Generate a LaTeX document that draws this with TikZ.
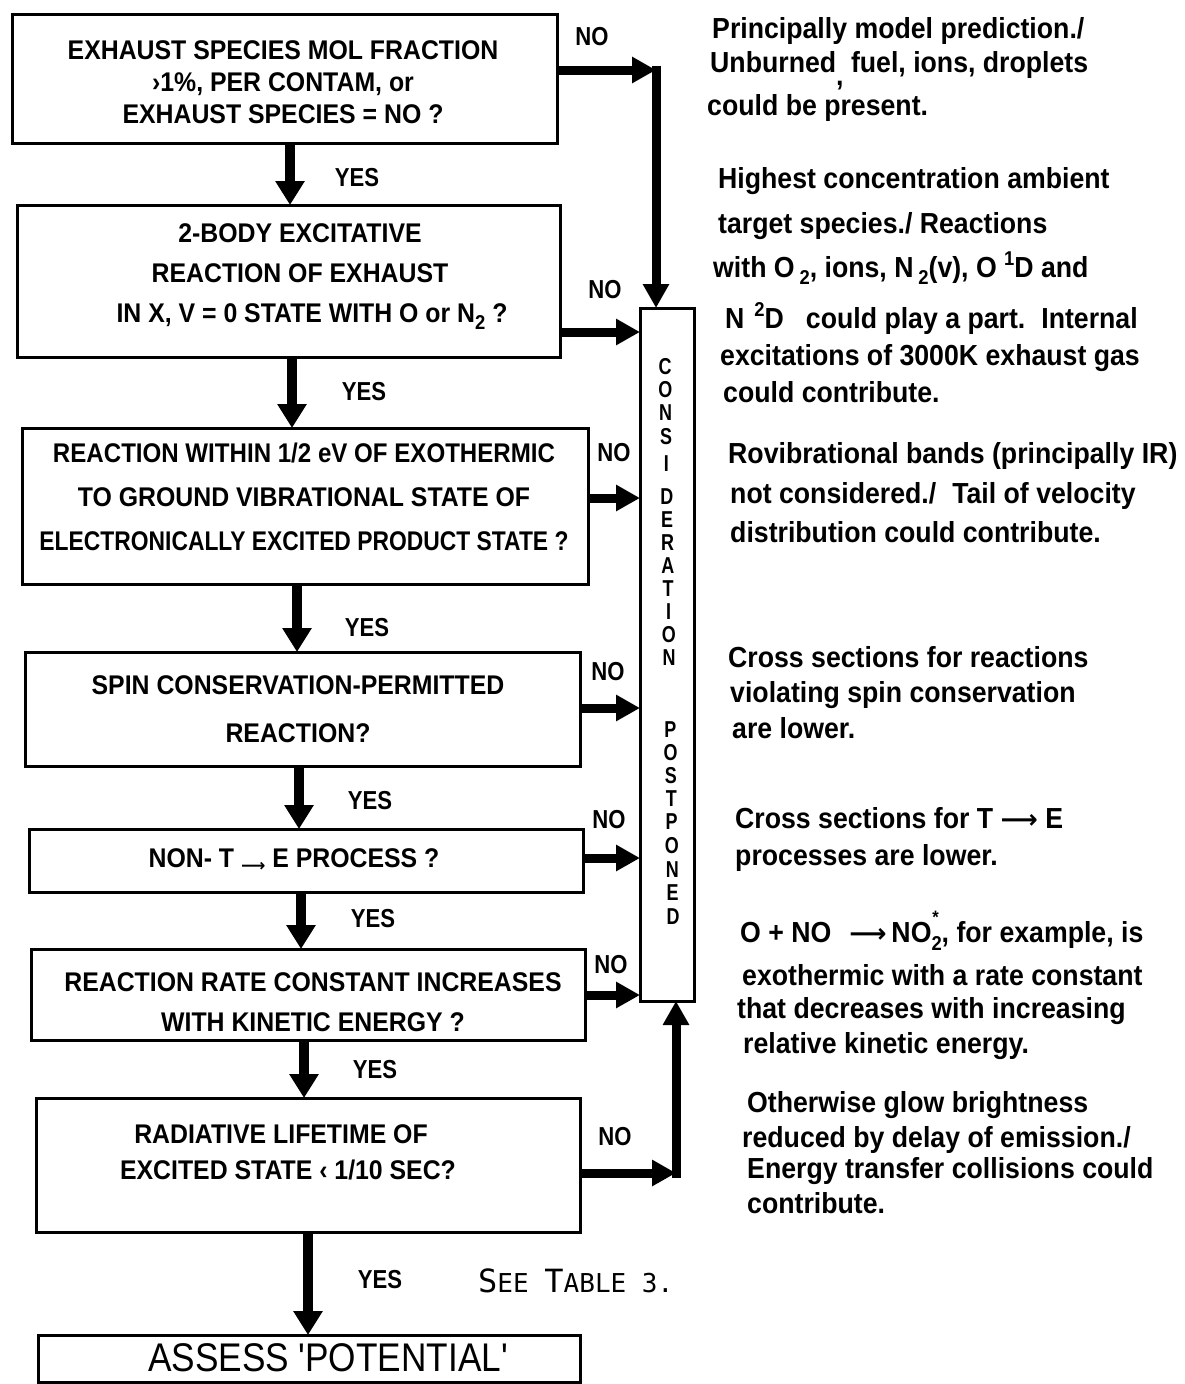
\documentclass[tikz,border=0pt]{standalone}
\usepackage{fontspec}
\setmainfont{Liberation Sans}
\newfontfamily\boxfont{Liberation Sans}[FakeStretch=0.92]
\newfontfamily\notefont{Liberation Sans}[FakeStretch=0.92]
\newfontfamily\vfont{Liberation Sans}[FakeStretch=0.78]
\newfontfamily\labfont{Liberation Sans}[FakeStretch=0.85]
\newfontfamily\thinfont{Liberation Sans}[FakeStretch=0.88]
\newfontfamily\seefont{DejaVu Sans Mono}
\newfontfamily\dejavu{DejaVu Sans}
\usetikzlibrary{arrows.meta}
\newcommand\mysub[1]{\raisebox{-0.5ex}{\fontsize{20}{20}\selectfont #1}}
\newcommand\mysup[1]{\raisebox{0.75ex}{\fontsize{20}{20}\selectfont #1}}
\newcommand\mysubsup[2]{\raisebox{-0.55ex}{\fontsize{20}{20}\selectfont #1}\llap{\raisebox{1.2ex}{\fontsize{18}{18}\selectfont #2\,}}}
\newcommand\seeL{\fontsize{32}{32}\selectfont}
\newcommand\seeS{\fontsize{26}{26}\selectfont}
\newcommand\longto{{\dejavu\bfseries\fontsize{26}{26}\selectfont ⟶}}
\begin{document}
\begin{tikzpicture}[x=1pt,y=-1pt,
  box/.style={draw, line width=3pt, inner sep=0pt, outer sep=0pt, anchor=north west},
  btxt/.style={font=\boxfont\bfseries\fontsize{27}{31}\selectfont, align=center, inner sep=0pt},
  lab/.style={font=\labfont\bfseries\fontsize{26}{26}\selectfont, inner sep=0pt},
  note/.style={font=\notefont\bfseries\fontsize{29}{35}\selectfont, anchor=base west, inner sep=0pt},
  vlet/.style={font=\vfont\bfseries\fontsize{23}{23}\selectfont, inner sep=0pt},
  arrY/.style={line width=10pt, -{Triangle[length=24pt,width=28pt]}},
  arrN/.style={line width=9pt, -{Triangle[length=24pt,width=25pt]}}
]
\fill[white] (0,0) rectangle (1185,1384);
\useasboundingbox (0,0) rectangle (1185,1384);

% boxes
\node[box, minimum width=545pt, minimum height=129pt] (b1) at (12,14) {};
\node[box, minimum width=543pt, minimum height=152pt] (b2) at (17,205) {};
\node[box, minimum width=566pt, minimum height=156pt] (b3) at (22,428) {};
\node[box, minimum width=555pt, minimum height=114pt] (b4) at (25,652) {};
\node[box, minimum width=554pt, minimum height=63pt] (b5) at (29,829) {};
\node[box, minimum width=554pt, minimum height=91pt] (b6) at (31,949) {};
\node[box, minimum width=544pt, minimum height=134pt] (b7) at (36,1098) {};
\node[box, minimum width=542pt, minimum height=47pt] (b8) at (38,1335) {};
\node[box, minimum width=54pt, minimum height=693pt] (vbox) at (640,308) {};

% box texts
\node[btxt, font=\boxfont\bfseries\fontsize{27}{32}\selectfont] (t1) at (283,82) {EXHAUST SPECIES MOL FRACTION\\›1\%, PER CONTAM, or\\EXHAUST SPECIES = NO ?};
\node[btxt, font=\boxfont\bfseries\fontsize{27}{40}\selectfont] (t2) at (300,277) {2-BODY EXCITATIVE\\REACTION OF EXHAUST\hspace*{24pt}\\\hspace*{24pt}IN X, V = 0 STATE WITH O or N\mysub{2} ?};
\node[btxt, font=\boxfont\bfseries\fontsize{27}{44}\selectfont] (t3) at (304,497) {\scalebox{0.97}[1]{REACTION WITHIN 1/2 eV OF EXOTHERMIC}\\TO GROUND VIBRATIONAL STATE OF\hspace*{40pt}\\\scalebox{0.92}[1]{ELECTRONICALLY EXCITED PRODUCT STATE ?}};
\node[btxt, font=\boxfont\bfseries\fontsize{27}{48}\selectfont] (t4) at (298,709) {SPIN CONSERVATION-PERMITTED\\REACTION?};
\node[btxt] (t5) at (294,860) {NON- T \raisebox{-0.25ex}{\dejavu\fontsize{17}{17}\selectfont ⟶} E PROCESS ?};
\node[btxt, font=\boxfont\bfseries\fontsize{27}{40}\selectfont] (t6) at (313,1002) {REACTION RATE CONSTANT INCREASES\\WITH KINETIC ENERGY ?};
\node[btxt, font=\boxfont\bfseries\fontsize{27}{36}\selectfont] (t7) at (288,1152) {RADIATIVE LIFETIME OF\hspace*{14pt}\\EXCITED STATE ‹ 1/10 SEC?};
\node[inner sep=0pt, font=\thinfont\fontsize{40}{40}\selectfont] (t8) at (328,1358) {ASSESS 'POTENTIAL'};

% vertical label
\foreach \L/\yy [count=\i] in {C/367,O/390,N/413,S/437,I/464,D/497,E/520,R/543,A/566,T/589,I/612,O/635,N/658,P/730,O/753,S/776,T/799,P/822,O/846,N/870,E/893,D/917}
  \node[vlet] (v\i) at ({665+(\yy-367)*0.0145},\yy) {\L};

% yes arrows
\coordinate (xa) at (290,0);
\coordinate (xb) at (292,0);
\coordinate (xc) at (297,0);
\coordinate (xd) at (299,0);
\coordinate (xe) at (301,0);
\coordinate (xf) at (304,0);
\coordinate (xg) at (308,0);
\draw[arrY] (b1.south -| xa) -- (b2.north -| xa);
\draw[arrY] (b2.south -| xb) -- (b3.north -| xb);
\draw[arrY] (b3.south -| xc) -- (b4.north -| xc);
\draw[arrY] (b4.south -| xd) -- (b5.north -| xd);
\draw[arrY] (b5.south -| xe) -- (b6.north -| xe);
\draw[arrY] (b6.south -| xf) -- (b7.north -| xf);
\draw[arrY] (b7.south -| xg) -- (b8.north -| xg);

% no arrows
\coordinate (c1) at (656,70);
\coordinate (c1t) at (656,65.5);
\draw[arrN] (b1.east |- c1) -- (c1);
\draw[arrN] (c1t) -- (vbox.north -| c1t);
\coordinate (y2) at (0,332);
\coordinate (y3) at (0,498);
\coordinate (y4) at (0,708);
\coordinate (y5) at (0,858);
\coordinate (y6) at (0,995);
\draw[arrN] (b2.east |- y2) -- (vbox.west |- y2);
\draw[arrN] (b3.east |- y3) -- (vbox.west |- y3);
\draw[arrN] (b4.east |- y4) -- (vbox.west |- y4);
\draw[arrN] (b5.east |- y5) -- (vbox.west |- y5);
\draw[arrN] (b6.east |- y6) -- (vbox.west |- y6);
\coordinate (c7) at (676,1173);
\coordinate (c7b) at (676,1177.5);
\draw[arrN] (b7.east |- c7) -- (c7);
\draw[arrN] (c7b) -- (vbox.south -| c7b);

% labels
\node[lab] (yes1) at (357,178) {YES};
\node[lab] (yes2) at (364,392) {YES};
\node[lab] (yes3) at (367,628) {YES};
\node[lab] (yes4) at (370,801) {YES};
\node[lab] (yes5) at (373,919) {YES};
\node[lab] (yes6) at (375,1070) {YES};
\node[lab] (yes7) at (380,1280) {YES};
\node[lab] (no1) at (592,37) {NO};
\node[lab] (no2) at (605,290) {NO};
\node[lab] (no3) at (614,453) {NO};
\node[lab] (no4) at (608,672) {NO};
\node[lab] (no5) at (609,820) {NO};
\node[lab] (no6) at (611,965) {NO};
\node[lab] (no7) at (615,1137) {NO};

\node[anchor=base west, inner sep=0pt, font=\seefont\seeS] (see) at (478,1292) {{\seeL S}{\seeS EE} {\seeL T}{\seeS ABLE 3.}};

% notes
\node[note] (n1a) at (712,38) {Principally model prediction./};
\node[note] (n1b) at (710,72) {Unburned\raisebox{-0.9ex}{,} fuel, ions, droplets};
\node[note] (n1c) at (707,115) {could be present.};
\node[note] (n2a) at (718,188) {Highest concentration ambient};
\node[note] (n2b) at (718,233) {target species./ Reactions};
\node[note] (n2c) at (713,277) {with O\,\mysub{2}, ions, N\,\mysub{2}(v), O \mysup{1}D and};
\node[note] (n2d) at (725,328) {N\hspace{10pt}\mysup{2}D\hspace{22pt}could play a part.\hspace{16pt}Internal};
\node[note] (n2e) at (720,365) {excitations of 3000K exhaust gas};
\node[note] (n2f) at (723,402) {could contribute.};
\node[note] (n3a) at (728,463) {Rovibrational bands (principally IR)};
\node[note] (n3b) at (730,503) {not considered./\hspace{16pt}Tail of velocity};
\node[note] (n3c) at (730,542) {distribution could contribute.};
\node[note] (n4a) at (728,667) {Cross sections for reactions};
\node[note] (n4b) at (730,702) {violating spin conservation};
\node[note] (n4c) at (732,738) {are lower.};
\node[note] (n5a) at (735,828) {Cross sections for T \longto{} E};
\node[note] (n5b) at (735,865) {processes are lower.};
\node[note] (n6a) at (740,942) {O + NO\hspace{18pt}\longto{}\,NO\mysubsup{2}{*}, for example, is};
\node[note] (n6b) at (742,985) {exothermic with a rate constant};
\node[note] (n6c) at (737,1018) {that decreases with increasing};
\node[note] (n6d) at (743,1053) {relative kinetic energy.};
\node[note] (n7a) at (747,1112) {Otherwise glow brightness};
\node[note] (n7b) at (742,1147) {reduced by delay of emission./};
\node[note] (n7c) at (747,1178) {Energy transfer collisions could};
\node[note] (n7d) at (747,1213) {contribute.};
\end{tikzpicture}
\end{document}
